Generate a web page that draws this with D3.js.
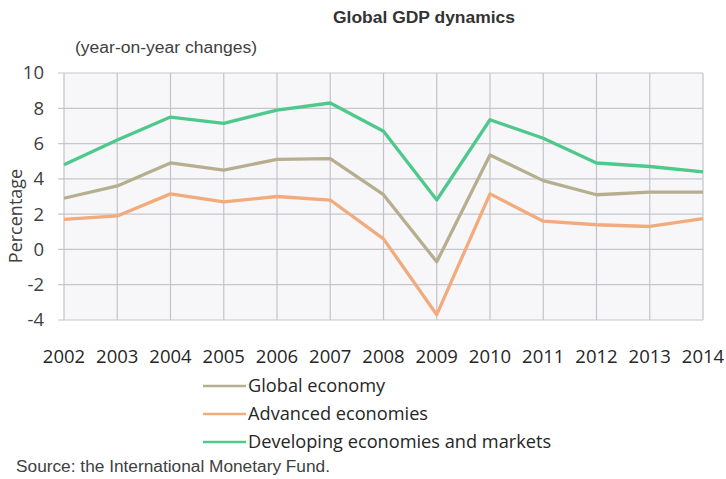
<!DOCTYPE html>
<html><head><meta charset="utf-8">
<script src="https://cdn.jsdelivr.net/npm/d3@7"></script>
<style>body{margin:0;background:#fff}svg{display:block}</style>
</head><body>
<svg id="c" width="726" height="479"></svg>
<script>
const years = ["2002","2003","2004","2005","2006","2007","2008","2009","2010","2011","2012","2013","2014"];
const globalEconomy = [2.9,3.6,4.9,4.5,5.1,5.15,3.1,-0.7,5.35,3.9,3.1,3.25,3.25];
const advancedEconomies = [1.7,1.9,3.15,2.7,3.0,2.8,0.6,-3.7,3.15,1.6,1.4,1.3,1.75];
const developingEconomies = [4.8,6.2,7.5,7.15,7.9,8.3,6.7,2.8,7.35,6.3,4.9,4.7,4.4];
const yTicks = [-4,-2,0,2,4,6,8,10];
const seriesNames = ["Global economy","Advanced economies","Developing economies and markets"];
const seriesColors = ["#b7ae8f","#f2ab7c","#4ec98b"];

const series = [globalEconomy, advancedEconomies, developingEconomies].map((v,i)=>({name:seriesNames[i], color:seriesColors[i], values:v}));

const svg = d3.select("#c");
const L=64, R=703, T=73, B=320;
const x = d3.scalePoint().domain(years).range([L,R]);
const y = d3.scaleLinear().domain([-4,10]).range([B,T]);

svg.append("rect").attr("x",L).attr("y",T).attr("width",R-L).attr("height",B-T).attr("fill","#f7f7fa");

// gridlines
svg.append("g").selectAll("line").data(yTicks).join("line")
  .attr("x1",L-6).attr("x2",R).attr("y1",d=>y(d)).attr("y2",d=>y(d))
  .attr("stroke","#c6c6cb").attr("stroke-width",1.2);
svg.append("g").selectAll("line").data(years).join("line")
  .attr("x1",d=>x(d)).attr("x2",d=>x(d)).attr("y1",T).attr("y2",B)
  .attr("stroke","#c3c3c8").attr("stroke-width",1.2);

// y axis labels
svg.append("g").selectAll("text").data(yTicks).join("text")
  .attr("x",44).attr("y",d=>y(d)).attr("dy","0.35em").attr("text-anchor","end")
  .attr("font-family","Open Sans").attr("font-size",18.5).attr("fill","#404040")
  .text(d=>d);
// x axis labels
svg.append("g").selectAll("text").data(years).join("text")
  .attr("x",d=>x(d)).attr("y",363).attr("text-anchor","middle")
  .attr("font-family","Open Sans").attr("font-size",18.5).attr("fill","#262626")
  .text(d=>d);

// lines
const line = d3.line().x((d,i)=>x(years[i])).y(d=>y(d));
svg.append("g").selectAll("path").data(series).join("path")
  .attr("d",d=>line(d.values)).attr("fill","none")
  .attr("stroke",d=>d.color).attr("stroke-width",3.3).attr("stroke-linejoin","round");

// titles
svg.append("text").attr("x",333).attr("y",23)
  .attr("font-family","Liberation Sans").attr("font-weight","bold").attr("font-size",16)
  .attr("textLength",182).attr("lengthAdjust","spacingAndGlyphs")
  .attr("fill","#333").text("Global GDP dynamics");
svg.append("text").attr("x",75).attr("y",53)
  .attr("font-family","Liberation Sans").attr("font-size",16)
  .attr("textLength",182).attr("lengthAdjust","spacingAndGlyphs")
  .attr("fill","#404040").text("(year-on-year changes)");
svg.append("text").attr("transform","translate(22,216) rotate(-90)").attr("text-anchor","middle")
  .attr("font-family","Open Sans").attr("font-size",18).attr("fill","#404040").text("Percentage");

// legend
const lg = svg.append("g").selectAll("g").data(series).join("g")
  .attr("transform",(d,i)=>`translate(203,${386+i*28})`);
lg.append("line").attr("x1",0).attr("x2",43).attr("y1",0).attr("y2",0)
  .attr("stroke",d=>d.color).attr("stroke-width",2.5);
lg.append("text").attr("x",45).attr("y",0).attr("dy","0.35em")
  .attr("font-family","Open Sans").attr("font-size",18.2).attr("fill","#262626")
  .text(d=>d.name);

svg.append("text").attr("x",16).attr("y",472)
  .attr("font-family","Liberation Sans").attr("font-size",16)
  .attr("textLength",314).attr("lengthAdjust","spacingAndGlyphs")
  .attr("fill","#404040").text("Source: the International Monetary Fund.");
</script>
</body></html>
